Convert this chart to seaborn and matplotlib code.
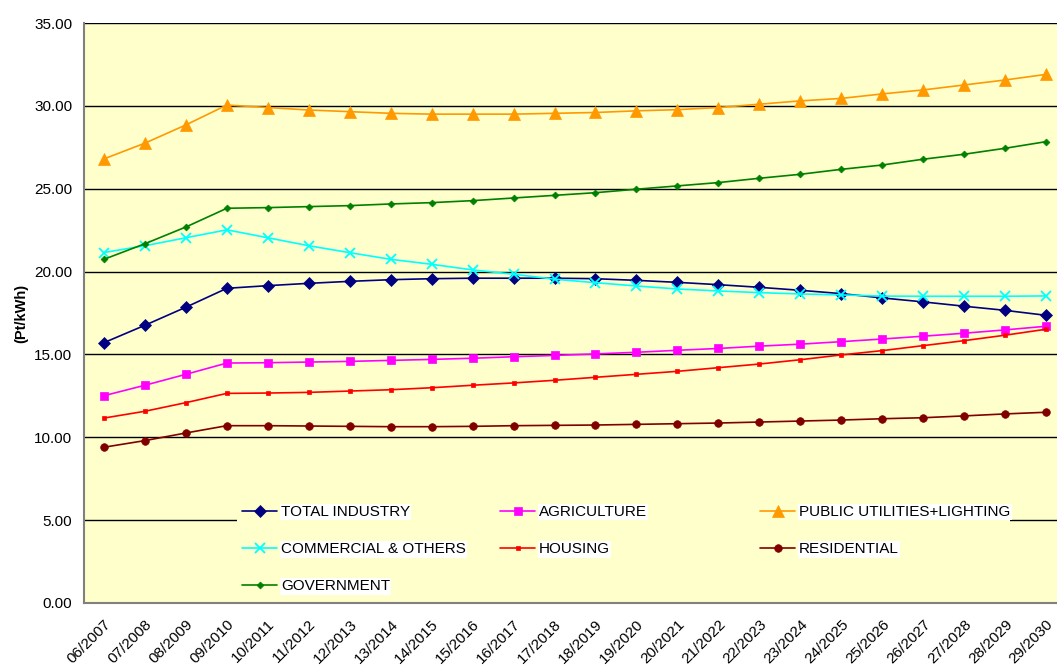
import matplotlib
matplotlib.use("Agg")
import matplotlib.pyplot as plt
import matplotlib.patches as mpatches
import seaborn as sns
import pandas as pd

years = ["06/2007", "07/2008", "08/2009", "09/2010", "10/2011", "11/2012", "12/2013",
         "13/2014", "14/2015", "15/2016", "16/2017", "17/2018", "18/2019", "19/2020",
         "20/2021", "21/2022", "22/2023", "23/2024", "24/2025", "25/2026", "26/2027",
         "27/2028", "28/2029", "29/2030"]

total_industry = [15.71, 16.76, 17.85, 18.99, 19.15, 19.29, 19.41, 19.51, 19.57, 19.60,
                  19.60, 19.60, 19.57, 19.47, 19.35, 19.21, 19.05, 18.87, 18.67, 18.41,
                  18.17, 17.91, 17.66, 17.36]
agriculture = [12.51, 13.14, 13.80, 14.48, 14.50, 14.54, 14.58, 14.64, 14.70, 14.77,
               14.86, 14.94, 15.03, 15.13, 15.25, 15.36, 15.50, 15.62, 15.77, 15.93,
               16.10, 16.28, 16.48, 16.70]
public_utilities = [26.80, 27.75, 28.85, 30.05, 29.90, 29.75, 29.65, 29.55, 29.50, 29.50,
                    29.50, 29.55, 29.60, 29.70, 29.77, 29.90, 30.10, 30.30, 30.45, 30.72,
                    30.96, 31.26, 31.56, 31.90]
commercial = [21.15, 21.56, 22.04, 22.52, 22.04, 21.56, 21.14, 20.74, 20.44, 20.10,
              19.84, 19.54, 19.33, 19.13, 18.95, 18.83, 18.73, 18.65, 18.59, 18.52,
              18.51, 18.51, 18.51, 18.53]
housing = [11.16, 11.57, 12.09, 12.65, 12.67, 12.71, 12.79, 12.87, 12.99, 13.14,
           13.28, 13.44, 13.62, 13.80, 13.98, 14.20, 14.42, 14.68, 14.97, 15.23,
           15.53, 15.83, 16.16, 16.52]
residential = [9.40, 9.80, 10.26, 10.70, 10.70, 10.68, 10.66, 10.64, 10.64, 10.66,
               10.70, 10.72, 10.74, 10.78, 10.82, 10.86, 10.92, 10.98, 11.04, 11.12,
               11.18, 11.29, 11.41, 11.51]
government = [20.74, 21.68, 22.69, 23.82, 23.86, 23.92, 23.98, 24.08, 24.16, 24.28,
              24.44, 24.60, 24.76, 24.97, 25.17, 25.37, 25.63, 25.87, 26.17, 26.43,
              26.78, 27.08, 27.44, 27.84]

series = [
    ("TOTAL INDUSTRY", total_industry, "#000080", "D", 6),
    ("AGRICULTURE", agriculture, "#FF00FF", "s", 6),
    ("PUBLIC UTILITIES+LIGHTING", public_utilities, "#FF9900", "^", 8),
    ("COMMERCIAL & OTHERS", commercial, "#00FFFF", "x", 7),
    ("HOUSING", housing, "#FF0000", "s", 3),
    ("RESIDENTIAL", residential, "#800000", "o", 5.5),
    ("GOVERNMENT", government, "#008000", "D", 3.5),
]

sns.set_style("white")
plt.rcParams["font.family"] = ["Liberation Sans", "DejaVu Sans"]
plt.rcParams["text.color"] = "black"
plt.rcParams["axes.labelcolor"] = "black"
plt.rcParams["xtick.color"] = "black"
plt.rcParams["ytick.color"] = "black"

fig = plt.figure(figsize=(10.57, 6.66), dpi=100)
ax = fig.add_axes([83.5 / 1057, 1 - 603 / 666, 983 / 1057, 580 / 666])
ax.set_facecolor("#FFFFCC")

handles = {}
for name, vals, col, mk, ms in series:
    df = pd.DataFrame({"x": range(len(years)), "y": vals})
    sns.lineplot(data=df, x="x", y="y", ax=ax, color=col, marker=mk, markersize=ms,
                 markeredgecolor=col, markerfacecolor=col,
                 markeredgewidth=1.3 if mk == "x" else 0.5,
                 linewidth=1.2, legend=False, label=name)
    handles[name] = ax.get_lines()[-1]

ax.set_xlim(-0.5, len(years) - 0.5)
ax.set_ylim(0, 35)
ax.set_yticks(range(0, 36, 5))
ax.set_yticklabels([f"{v:.2f}" for v in range(0, 36, 5)], fontsize=11)
ax.set_xticks(range(len(years)))
ax.set_xticklabels(years, rotation=45, ha="right", rotation_mode="anchor", fontsize=11)
ax.set_xticks([i - 0.5 for i in range(len(years) + 1)], minor=True)
ax.tick_params(axis="x", which="major", length=0, pad=10)
ax.tick_params(axis="x", which="minor", length=5, color="#808080", width=1)
ax.tick_params(axis="y", length=5, color="#808080", width=1, pad=3)
ax.grid(axis="y", color="black", linewidth=1)
ax.set_axisbelow(True)
for s in ["top", "right"]:
    ax.spines[s].set_visible(False)
for s in ["left", "bottom"]:
    ax.spines[s].set_color("#808080")
    ax.spines[s].set_linewidth(1.5)
ax.set_xlabel("")
ax.set_ylabel("(Pt/kWh)", fontsize=10.5, fontweight="bold", labelpad=4)

# legend area background (hides the gridline behind it)
bg = mpatches.Rectangle(((237 - 83.5) / 983, 0.004), (1010 - 237) / 983, 0.185,
                        transform=ax.transAxes, facecolor="#FFFFCC", edgecolor="none",
                        zorder=1.5)
ax.add_patch(bg)

columns = [
    (["TOTAL INDUSTRY", "COMMERCIAL & OTHERS", "GOVERNMENT"], 242),
    (["AGRICULTURE", "HOUSING"], 500),
    (["PUBLIC UTILITIES+LIGHTING", "RESIDENTIAL"], 760),
]
legs = []
for names, xpx in columns:
    leg = ax.legend([handles[n] for n in names], names, loc="upper left",
                    bbox_to_anchor=((xpx - 83.5) / 983, (603 - 505) / 580),
                    frameon=False, fontsize=11, borderpad=0, borderaxespad=0,
                    handlelength=2.3, handletextpad=0.25, labelspacing=1.52)
    for t in leg.get_texts():
        t.set_bbox(dict(facecolor="white", edgecolor="none", pad=1))
    legs.append(leg)
for leg in legs[:-1]:
    ax.add_artist(leg)

fig.savefig("out.png", dpi=100)
